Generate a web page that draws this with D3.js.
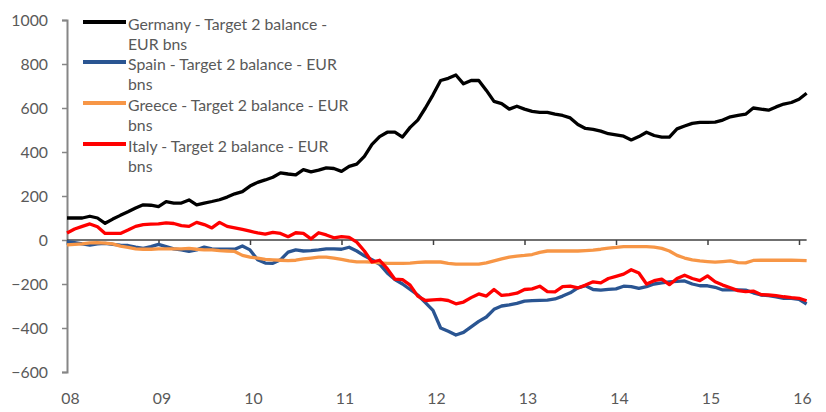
<!DOCTYPE html>
<html>
<head>
<meta charset="utf-8">
<script src="https://cdn.jsdelivr.net/npm/d3@7"></script>
<style>
  html, body { margin: 0; padding: 0; background: #fff; }
  svg text { font-family: Lato, "Open Sans", sans-serif; }
</style>
</head>
<body>
<div id="chart"></div>
<script>
// monthly values, Jan 2008 onwards (index = months since Jan 2008)
const germany = [
  100, 100, 100, 108, 100, 76, 95, 112, 128, 145,
  160, 158, 152, 174, 168, 168, 182, 160, 168, 175,
  183, 195, 210, 220, 245, 262, 273, 285, 305, 300,
  296, 320, 310, 318, 328, 325, 312, 335, 345, 380,
  435, 470, 490, 490, 468, 512, 545, 600, 660, 725,
  735, 750, 710, 725, 725, 680, 630, 620, 595, 608,
  595, 585, 580, 580, 572, 566, 555, 525, 507, 503,
  495, 483, 478, 472, 455, 470, 490, 475, 468, 468,
  505, 518, 530, 535, 535, 536, 545, 560, 566, 572,
  600, 595, 590, 605, 618, 625, 640, 667
];
const spain = [
  -8, -12, -18, -23, -18, -15, -20, -23, -25, -32,
  -38, -30, -20, -30, -40, -45, -52, -45, -32, -40,
  -42, -42, -42, -27, -45, -90, -105, -106, -90, -55,
  -45, -50, -48, -45, -40, -40, -42, -33, -50, -72,
  -90, -110, -150, -180, -200, -225, -250, -285, -320, -400,
  -415, -432, -420, -395, -370, -350, -315, -300, -295, -288,
  -278, -276, -274, -273, -268, -255, -240, -218, -208, -225,
  -228, -224, -222, -210, -212, -220, -212, -200, -195, -190,
  -188, -186, -200, -208, -208, -215, -227, -227, -227, -228,
  -240, -250, -253, -258, -265, -265, -270, -291
];
const greece = [
  -22, -20, -18, -13, -12, -14, -18, -28, -33, -40,
  -42, -42, -40, -40, -40, -40, -38, -42, -45, -45,
  -48, -50, -52, -70, -78, -82, -88, -90, -92, -94,
  -92, -86, -82, -78, -78, -82, -88, -95, -99, -99,
  -100, -104, -106, -106, -106, -105, -102, -100, -99, -100,
  -106, -110, -110, -110, -110, -104, -95, -86, -78, -73,
  -70, -66, -56, -50, -50, -50, -50, -50, -48, -46,
  -42, -37, -34, -30, -30, -30, -30, -32, -38, -50,
  -70, -82, -90, -95, -98, -101, -98, -95, -103, -104,
  -93, -92, -92, -92, -92, -92, -93, -94
];
const italy = [
  32, 50, 62, 73, 60, 30, 30, 30, 45, 62,
  70, 72, 73, 78, 75, 65, 62, 80, 70, 55,
  80, 62, 55, 48, 40, 32, 27, 35, 30, 15,
  33, 30, 5, 33, 23, 10, 15, 12, -10, -50,
  -100, -92, -130, -178, -180, -205, -255, -275, -272, -270,
  -275, -290, -282, -262, -245, -255, -225, -252, -248, -242,
  -225, -222, -210, -235, -236, -212, -210, -218, -205, -190,
  -195, -175, -165, -155, -135, -150, -200, -185, -178, -203,
  -175, -160, -175, -185, -163, -190, -205, -217, -230, -235,
  -232, -248, -250, -253, -258, -262, -265, -276
];

const xTickLabels = ['08', '09', '10', '11', '12', '13', '14', '15', '16'];
const yTicks = [-600, -400, -200, 0, 200, 400, 600, 800, 1000];

const seriesNames = ['Germany', 'Spain', 'Greece', 'Italy'];
const legendLines = [
  ['Germany - Target 2 balance -', 'EUR bns'],
  ['Spain - Target 2 balance - EUR', 'bns'],
  ['Greece - Target 2 balance - EUR', 'bns'],
  ['Italy - Target 2 balance - EUR', 'bns']
];
const colors = ['#000000', '#2a5592', '#f79646', '#ff0000'];
const seriesData = [germany, spain, greece, italy];

const width = 826;
const height = 412;
const fontSize = '15.8px';

const svg = d3.select('#chart')
  .append('svg')
  .attr('width', width)
  .attr('height', height);

svg.append('rect')
  .attr('width', width)
  .attr('height', height)
  .attr('fill', '#fff');

const xScale = d3.scaleLinear()
  .domain([0, 96])
  .range([67, 799]);

const yScale = d3.scaleLinear()
  .domain([-600, 1000])
  .range([372, 20]);

// left axis
const yAxis = d3.axisLeft(yScale)
  .tickValues(yTicks)
  .tickSize(5)
  .tickPadding(14)
  .tickFormat(d3.format('d'));

const gy = svg.append('g')
  .attr('transform', 'translate(67,0)')
  .call(yAxis);
gy.select('.domain').attr('stroke', '#868686').attr('stroke-width', 2);
gy.selectAll('.tick line').attr('stroke', '#868686').attr('stroke-width', 1.5);
gy.selectAll('.tick text').attr('fill', '#595959').style('font-size', fontSize);

// zero line with year ticks
const tickVals = xTickLabels.map((d, i) => i * 12);
const xAxisZero = d3.axisBottom(xScale)
  .tickValues(tickVals)
  .tickSize(5)
  .tickSizeOuter(0)
  .tickFormat('');

const gx = svg.append('g')
  .attr('transform', `translate(0,${yScale(0)})`)
  .call(xAxisZero);
gx.select('.domain')
  .attr('d', `M${xScale(0)},0H${xScale(97)}`)
  .attr('stroke', '#404040')
  .attr('stroke-width', 1.5);
gx.selectAll('.tick line').attr('stroke', '#404040').attr('stroke-width', 1.5);

// year labels at the bottom
const xAxisLabels = d3.axisBottom(xScale)
  .tickValues(tickVals)
  .tickSize(0)
  .tickPadding(0)
  .tickFormat((d, i) => xTickLabels[i]);

const gl = svg.append('g')
  .attr('transform', 'translate(0,393)')
  .call(xAxisLabels);
gl.select('.domain').remove();
gl.selectAll('.tick text')
  .attr('fill', '#595959')
  .attr('dx', 3)
  .style('font-size', fontSize);

// series
const line = d3.line()
  .x((d, i) => xScale(i))
  .y(d => yScale(d));

seriesData.forEach((data, k) => {
  svg.append('path')
    .datum(data)
    .attr('fill', 'none')
    .attr('stroke', colors[k])
    .attr('stroke-width', 3.3)
    .attr('stroke-linejoin', 'round')
    .attr('d', line);
});

// legend
const legend = svg.append('g').attr('class', 'legend');
const legendY = [22, 62, 103, 144];

seriesNames.forEach((name, k) => {
  const g = legend.append('g');
  g.append('line')
    .attr('x1', 83)
    .attr('x2', 126)
    .attr('y1', legendY[k])
    .attr('y2', legendY[k])
    .attr('stroke', colors[k])
    .attr('stroke-width', 4);
  const t = g.append('text')
    .attr('x', 128)
    .attr('y', legendY[k] + 8)
    .attr('fill', '#595959')
    .style('font-size', fontSize);
  legendLines[k].forEach((s, j) => {
    t.append('tspan')
      .attr('x', 128)
      .attr('dy', j === 0 ? 0 : 20.3)
      .text(s);
  });
});
</script>
</body>
</html>
